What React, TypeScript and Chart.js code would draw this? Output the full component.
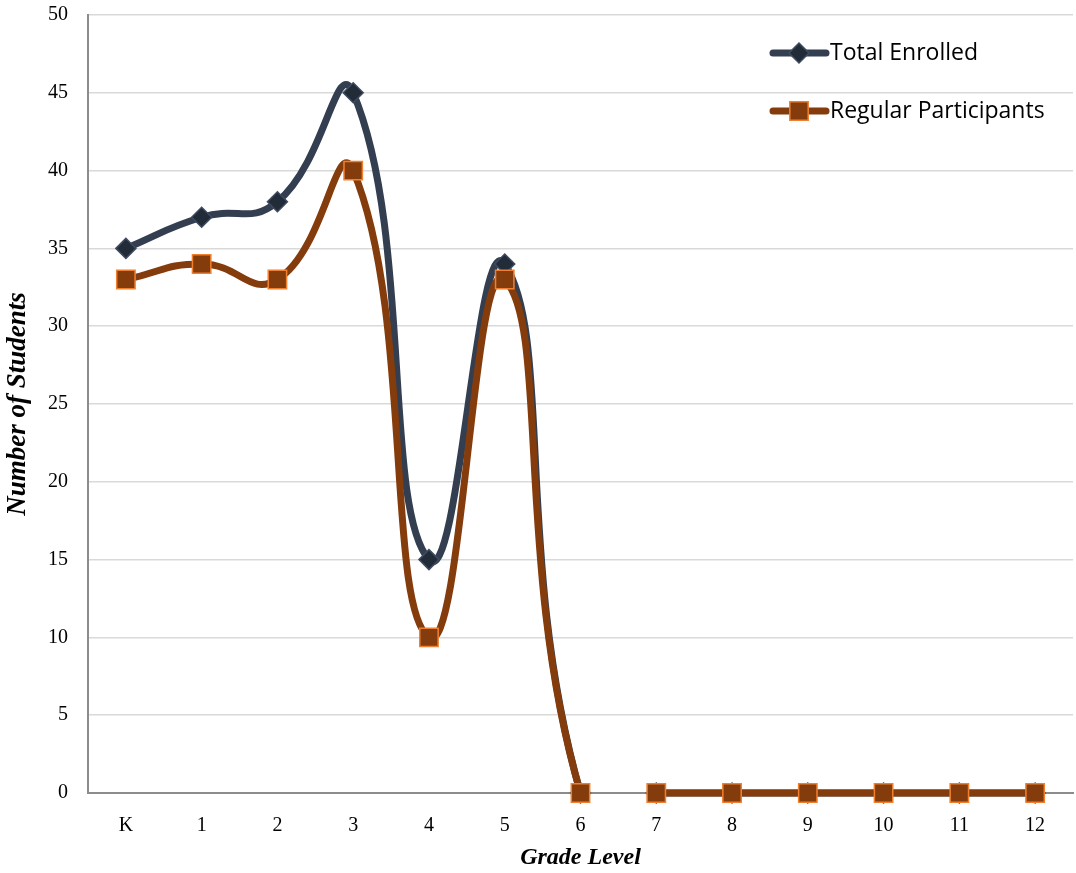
import React, { useEffect, useRef } from "react";
import { Chart, registerables } from "chart.js";

Chart.register(...registerables);

const grades = ["K", "1", "2", "3", "4", "5", "6", "7", "8", "9", "10", "11", "12"];
const totalEnrolled = [35, 37, 38, 45, 15, 34, 0, 0, 0, 0, 0, 0, 0];
const regularParticipants = [33, 34, 33, 40, 10, 33, 0, 0, 0, 0, 0, 0, 0];
const seriesNames = ["Total Enrolled", "Regular Participants"];

const TOTAL_LINE = "#333F50";
const TOTAL_FILL = "#222B38";
const TOTAL_EDGE = "#3E4B60";
const REG_LINE = "#843C0C";
const REG_EDGE = "#F08030";
const SERIF = "'Liberation Serif', 'Times New Roman', serif";

const legendPlugin = {
  id: "insideLegend",
  afterDraw(chart: any) {
    const ctx = chart.ctx;
    const items = [
      { label: seriesNames[0], y: 53, line: TOTAL_LINE, fill: TOTAL_FILL, edge: TOTAL_EDGE, style: "rectRot", r: 10 },
      { label: seriesNames[1], y: 111, line: REG_LINE, fill: REG_LINE, edge: REG_EDGE, style: "rect", r: 13 },
    ];
    ctx.save();
    for (const it of items) {
      ctx.beginPath();
      ctx.lineCap = "round";
      ctx.lineWidth = 7;
      ctx.strokeStyle = it.line;
      ctx.moveTo(773, it.y);
      ctx.lineTo(826, it.y);
      ctx.stroke();
      ctx.fillStyle = it.fill;
      ctx.strokeStyle = it.edge;
      ctx.lineWidth = 1.5;
      ctx.lineCap = "butt";
      ctx.beginPath();
      if (it.style === "rect") {
        const s = Math.SQRT1_2 * it.r;
        ctx.rect(799 - s, it.y - s, 2 * s, 2 * s);
      } else {
        ctx.moveTo(799 - it.r, it.y);
        ctx.lineTo(799, it.y - it.r);
        ctx.lineTo(799 + it.r, it.y);
        ctx.lineTo(799, it.y + it.r);
        ctx.closePath();
      }
      ctx.fill();
      ctx.stroke();
      ctx.fillStyle = "#000000";
      ctx.font = "23px 'Open Sans'";
      ctx.textBaseline = "middle";
      ctx.textAlign = "left";
      ctx.fillText(it.label, 830, it.y);
    }
    ctx.restore();
  },
};

export default function App() {
  const ref = useRef<HTMLCanvasElement | null>(null);
  useEffect(() => {
    if (!ref.current) return;
    const hideGap = (c: any) => (c.p0DataIndex === 6 ? "rgba(0,0,0,0)" : undefined);
    const chart = new Chart(ref.current, {
      type: "line",
      data: {
        labels: grades,
        datasets: [
          {
            label: seriesNames[0],
            data: totalEnrolled,
            borderColor: TOTAL_LINE,
            borderWidth: 7,
            backgroundColor: TOTAL_FILL,
            pointStyle: "rectRot",
            pointRadius: 10,
            pointBackgroundColor: TOTAL_FILL,
            pointBorderColor: TOTAL_EDGE,
            pointBorderWidth: 1.5,
            tension: 0.5,
            borderCapStyle: "round",
            segment: { borderColor: hideGap },
            clip: false,
            order: 2,
          },
          {
            label: seriesNames[1],
            data: regularParticipants,
            borderColor: REG_LINE,
            borderWidth: 7,
            backgroundColor: REG_LINE,
            pointStyle: "rect",
            pointRadius: 13,
            pointBackgroundColor: REG_LINE,
            pointBorderColor: REG_EDGE,
            pointBorderWidth: 1.5,
            tension: 0.5,
            borderCapStyle: "round",
            segment: { borderColor: hideGap },
            clip: false,
            order: 1,
          },
        ],
      },
      options: {
        animation: false,
        responsive: true,
        maintainAspectRatio: false,
        layout: { autoPadding: false, padding: { top: 3, right: 3, left: 0, bottom: 0 } },
        plugins: {
          legend: { display: false },
          tooltip: { enabled: false },
        },
        scales: {
          x: {
            offset: true,
            grid: { display: false, drawTicks: false },
            border: { display: true, color: "#8C8C8C", width: 2 },
            ticks: {
              color: "#000000",
              padding: 21,
              font: { family: SERIF, size: 20 },
            },
            title: {
              display: true,
              text: "Grade Level",
              color: "#000000",
              padding: { top: 0, bottom: 1 },
              font: { family: SERIF, size: 24, weight: "bold", style: "italic" },
            },
            afterFit: (s: any) => {
              s.height = 80;
            },
          },
          y: {
            min: 0,
            max: 50,
            ticks: {
              stepSize: 5,
              color: "#000000",
              padding: 3,
              font: { family: SERIF, size: 20 },
            },
            grid: {
              color: "#D9D9D9",
              lineWidth: 1.5,
              drawTicks: true,
              tickLength: 17,
              tickColor: "rgba(0,0,0,0)",
            },
            border: { display: true, color: "#8C8C8C", width: 2 },
            title: {
              display: true,
              text: "Number of Students",
              color: "#000000",
              padding: { top: 2, bottom: 0 },
              font: { family: SERIF, size: 27, weight: "bold", style: "italic" },
            },
            afterFit: (s: any) => {
              s.width = 88;
            },
          },
        },
      },
      plugins: [legendPlugin],
    } as any);
    return () => chart.destroy();
  }, []);
  return (
    <div style={{ position: "absolute", left: 0, top: 0, width: 1076, height: 873, background: "#ffffff" }}>
      <canvas ref={ref} />
    </div>
  );
}
